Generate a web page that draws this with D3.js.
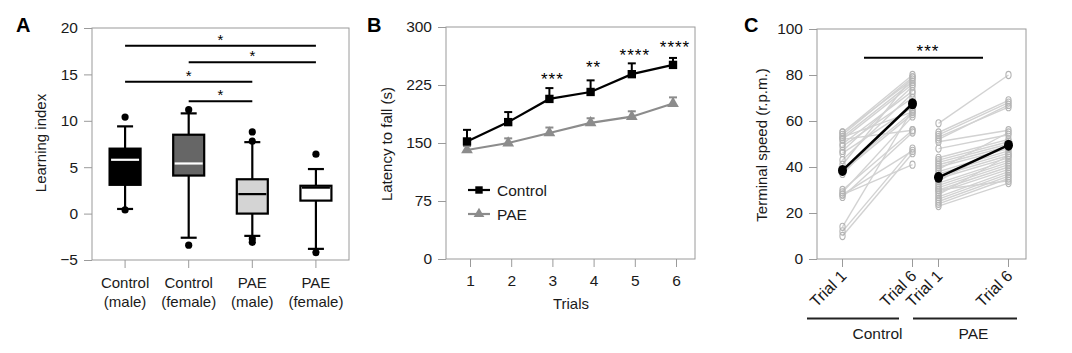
<!DOCTYPE html>
<html>
<head>
<meta charset="utf-8">
<script src="https://cdn.jsdelivr.net/npm/d3@7"></script>
<style>
  body { margin: 0; background: #fff; }
  svg { font-family: "Liberation Sans", Arial, sans-serif; }
</style>
</head>
<body>
<svg id="chart" width="1072" height="353"></svg>
<script>
// ---- panel A: learning index box plots
const groupsA = ["Control\n(male)", "Control\n(female)", "PAE\n(male)", "PAE\n(female)"];
const q1A = [3.1, 4.1, 0.0, 1.4];
const medA = [5.8, 5.4, 2.1, 2.8];
const q3A = [7.0, 8.5, 3.7, 3.0];
const loA = [0.5, -2.6, -2.4, -3.8];
const hiA = [9.4, 10.8, 7.7, 4.8];
const outA = [[10.4, 0.4], [11.2, -3.4], [8.8, 7.8, -2.7, -3.1], [6.4, -4.2]];
const fillA = ["#000", "#666", "#d4d4d4", "#fff"];
const medColA = ["#fff", "#fff", "#000", "#000"];
const sigA = [[0, 3, 18.1], [1, 3, 16.3], [0, 2, 14.2], [1, 2, 12.1]];
const ticksA = [-5, 0, 5, 10, 15, 20];

// ---- panel B: latency to fall
const trials = [1, 2, 3, 4, 5, 6];
const controlB = [152, 177, 207, 216, 239, 251];
const controlErrB = [15, 13, 14, 15, 14, 9];
const paeB = [141, 150, 163, 176, 184, 201];
const paeErrB = [5, 6, 7, 6, 7, 8];
const starsB = [null, null, "***", "**", "****", "****"];
const starYB = [0, 0, 236, 252, 268, 278];
const ticksB = [0, 75, 150, 225, 300];

// ---- panel C: terminal speed, trial 1 vs trial 6
const controlPairs = [[55,80],[55,78],[54,79],[53,77],[53,64],[52,76],[52,56],[50,73],[49,70],[47,75],
  [46,66],[43,72],[41,79],[39,64],[38,63],[37,68],[30,56],[29,62],[28,47],[27,55],[28,41],[14,65],[12,48],[10,46]];
const paePairs = [[59,80],[55,69],[54,68],[53,66],[52,67],[51,56],[48,54],[44,52],[43,51],[42,50],
  [41,49],[40,48],[39,55],[38,47],[37,46],[36,45],[35,44],[34,50],[33,43],[32,42],[31,41],[30,40],
  [30,34],[29,39],[28,45],[27,38],[26,37],[25,36],[24,35],[23,33]];
const meansC = { Control: [38.5, 67.5], PAE: [35.5, 49.5] };
const groupsC = ["Control", "PAE"];
const trialsC = ["Trial 1", "Trial 6"];
const ticksC = [0, 20, 40, 60, 80, 100];

const svg = d3.select("#chart");
const frameCol = "#9a9a9a";
const txtCol = "#1a1a1a";
const fs = 15;

function frame(x0, x1, y0, y1) {
  svg.append("rect").attr("x", x0).attr("y", y0).attr("width", x1 - x0).attr("height", y1 - y0)
    .attr("fill", "none").attr("stroke", frameCol).attr("stroke-width", 1);
}
function yAxis(scale, x, ticks) {
  const g = svg.append("g").attr("transform", `translate(${x},0)`)
    .call(d3.axisLeft(scale).tickValues(ticks).tickSize(8).tickPadding(6).tickFormat(d => d < 0 ? "\u2212" + (-d) : d));
  g.select(".domain").remove();
  g.selectAll("line").attr("stroke", frameCol);
  g.selectAll("text").attr("font-size", 15.5).attr("fill", txtCol).attr("font-family", "Liberation Sans, Arial, sans-serif");
  return g;
}
function panelLetter(t, x, y) {
  svg.append("text").attr("x", x).attr("y", y).attr("font-size", 20).attr("font-weight", "bold").text(t);
}
function yLabel(t, x, y) {
  svg.append("text").attr("transform", `translate(${x},${y}) rotate(-90)`).attr("text-anchor", "middle")
    .attr("font-size", fs).attr("fill", txtCol).text(t);
}

// ================= A =================
const xA = d3.scalePoint().domain(groupsA).range([92, 349]).padding(0.52);
const yA = d3.scaleLinear().domain([-5, 20]).range([260, 28]);
frame(92, 349, 28, 260);
yAxis(yA, 92, ticksA);
panelLetter("A", 16, 32);
yLabel("Learning index", 46, 143);

groupsA.forEach((g, i) => {
  const cx = xA(g);
  svg.append("line").attr("x1", cx).attr("x2", cx).attr("y1", 260).attr("y2", 268).attr("stroke", frameCol);
  g.split("\n").forEach((s, j) => {
    svg.append("text").attr("x", cx).attr("y", 288 + j * 19).attr("text-anchor", "middle")
      .attr("font-size", fs).attr("fill", txtCol).text(s);
  });
  const bw = 31, cw = 16;
  svg.append("line").attr("x1", cx).attr("x2", cx).attr("y1", yA(loA[i])).attr("y2", yA(hiA[i]))
    .attr("stroke", "#000").attr("stroke-width", 2.2);
  [loA[i], hiA[i]].forEach(v => svg.append("line").attr("x1", cx - cw / 2).attr("x2", cx + cw / 2)
    .attr("y1", yA(v)).attr("y2", yA(v)).attr("stroke", "#000").attr("stroke-width", 2.2));
  svg.append("rect").attr("x", cx - bw / 2).attr("y", yA(q3A[i])).attr("width", bw)
    .attr("height", yA(q1A[i]) - yA(q3A[i])).attr("fill", fillA[i]).attr("stroke", "#000").attr("stroke-width", 2.2);
  svg.append("line").attr("x1", cx - bw / 2 + 1.5).attr("x2", cx + bw / 2 - 1.5).attr("y1", yA(medA[i])).attr("y2", yA(medA[i]))
    .attr("stroke", medColA[i]).attr("stroke-width", 2.2);
  outA[i].forEach(v => svg.append("circle").attr("cx", cx).attr("cy", yA(v)).attr("r", 3.6).attr("fill", "#000"));
});
sigA.forEach(([a, b, v]) => {
  const x1 = xA(groupsA[a]), x2 = xA(groupsA[b]);
  svg.append("line").attr("x1", x1).attr("x2", x2).attr("y1", yA(v)).attr("y2", yA(v)).attr("stroke", "#000").attr("stroke-width", 2);
  svg.append("text").attr("x", (x1 + x2) / 2).attr("y", yA(v) - 1).attr("text-anchor", "middle").attr("font-size", 15).text("*");
});

// ================= B =================
const xB = d3.scaleLinear().domain([1, 6]).range([470, 676]);
const yB = d3.scaleLinear().domain([0, 300]).range([259, 27]);
frame(446, 695, 27, 259);
yAxis(yB, 446, ticksB);
panelLetter("B", 367, 32);
yLabel("Latency to fall (s)", 392, 144);
const gxB = svg.append("g").attr("transform", "translate(0,259)")
  .call(d3.axisBottom(xB).tickValues(trials).tickFormat(d3.format("d")).tickSize(8).tickPadding(8));
gxB.select(".domain").remove();
gxB.selectAll("line").attr("stroke", frameCol);
gxB.selectAll("text").attr("font-size", 15.5).attr("fill", txtCol).attr("font-family", "Liberation Sans, Arial, sans-serif");
svg.append("text").attr("x", 571).attr("y", 309).attr("text-anchor", "middle").attr("font-size", fs).attr("fill", txtCol).text("Trials");

const dx = -3;
function seriesB(vals, errs, col, sym, size) {
  const line = d3.line().x((d, i) => xB(trials[i]) + dx).y(d => yB(d));
  trials.forEach((t, i) => {
    const x = xB(t) + dx;
    svg.append("line").attr("x1", x).attr("x2", x).attr("y1", yB(vals[i])).attr("y2", yB(vals[i] + errs[i]))
      .attr("stroke", col).attr("stroke-width", 2);
    svg.append("line").attr("x1", x - 4).attr("x2", x + 4).attr("y1", yB(vals[i] + errs[i])).attr("y2", yB(vals[i] + errs[i]))
      .attr("stroke", col).attr("stroke-width", 2);
  });
  svg.append("path").attr("d", line(vals)).attr("fill", "none").attr("stroke", col).attr("stroke-width", 2.2);
  const s = d3.symbol().type(sym).size(size);
  trials.forEach((t, i) => svg.append("path").attr("d", s())
    .attr("transform", `translate(${xB(t) + dx},${yB(vals[i])})`).attr("fill", col));
}
seriesB(paeB, paeErrB, "#8c8c8c", d3.symbolTriangle, 60);
seriesB(controlB, controlErrB, "#000", d3.symbolSquare, 70);
trials.forEach((t, i) => {
  if (starsB[i]) svg.append("text").attr("x", xB(t) + (i === 5 ? -1 : 0)).attr("y", yB(starYB[i]) + 9)
    .attr("text-anchor", "middle").attr("font-size", 17).attr("letter-spacing", 1).text(starsB[i]);
});
// legend
[["Control", "#000", d3.symbolSquare, 55], ["PAE", "#8c8c8c", d3.symbolTriangle, 50]].forEach(([n, c, sym, sz], i) => {
  const y = 190 + i * 24;
  svg.append("line").attr("x1", 468).attr("x2", 490).attr("y1", y).attr("y2", y).attr("stroke", c).attr("stroke-width", 2.2);
  svg.append("path").attr("d", d3.symbol().type(sym).size(sz)()).attr("transform", `translate(479,${y})`).attr("fill", c);
  svg.append("text").attr("x", 497).attr("y", y + 5.5).attr("font-size", 15.5).attr("fill", txtCol).text(n);
});

// ================= C =================
const yC = d3.scaleLinear().domain([0, 100]).range([259, 29]);
const xG = d3.scalePoint().domain(groupsC).range([877.5, 973.5]);
const xT = d3.scalePoint().domain(trialsC).range([-35, 35]);
frame(817, 1026, 29, 259);
yAxis(yC, 817, ticksC);
panelLetter("C", 744, 32);
yLabel("Terminal speed (r.p.m.)", 767, 145);

const pairsC = { Control: controlPairs, PAE: paePairs };
groupsC.forEach(g => {
  const x1 = xG(g) + xT("Trial 1"), x2 = xG(g) + xT("Trial 6");
  pairsC[g].forEach(([a, b]) => svg.append("line").attr("x1", x1).attr("x2", x2).attr("y1", yC(a)).attr("y2", yC(b))
    .attr("stroke", "#d2d2d2").attr("stroke-width", 1.4));
  pairsC[g].forEach(([a, b]) => {
    [[x1, a], [x2, b]].forEach(([x, v]) => svg.append("ellipse").attr("cx", x).attr("cy", yC(v)).attr("rx", 2.6).attr("ry", 3.6)
      .attr("fill", "none").attr("stroke", "#b4b4b4").attr("stroke-width", 1.1));
  });
});
groupsC.forEach(g => {
  const x1 = xG(g) + xT("Trial 1"), x2 = xG(g) + xT("Trial 6");
  const m = meansC[g];
  svg.append("line").attr("x1", x1).attr("x2", x2).attr("y1", yC(m[0])).attr("y2", yC(m[1])).attr("stroke", "#000").attr("stroke-width", 2.5);
  [[x1, m[0]], [x2, m[1]]].forEach(([x, v]) => svg.append("ellipse").attr("cx", x).attr("cy", yC(v)).attr("rx", 4.5).attr("ry", 5.5).attr("fill", "#000"));
  trialsC.forEach(t => {
    const x = xG(g) + xT(t);
    svg.append("line").attr("x1", x).attr("x2", x).attr("y1", 259).attr("y2", 267).attr("stroke", frameCol);
    svg.append("text").attr("transform", `translate(${x + 5},${277}) rotate(-45)`).attr("text-anchor", "end")
      .attr("font-size", 16).attr("fill", txtCol).text(t);
  });
});
// group brackets
[["Control", 807, 899], ["PAE", 913, 1017]].forEach(([n, a, b]) => {
  svg.append("line").attr("x1", a).attr("x2", b).attr("y1", 318.5).attr("y2", 318.5).attr("stroke", "#222").attr("stroke-width", 2);
  svg.append("text").attr("x", xG(n)).attr("y", 339).attr("text-anchor", "middle").attr("font-size", 15.5).attr("fill", txtCol).text(n);
});
svg.append("line").attr("x1", 864).attr("x2", 983).attr("y1", yC(87.5)).attr("y2", yC(87.5)).attr("stroke", "#000").attr("stroke-width", 2);
svg.append("text").attr("x", 928).attr("y", yC(87.5) - 1).attr("text-anchor", "middle").attr("font-size", 17).attr("letter-spacing", 1).text("***");
</script>
</body>
</html>
